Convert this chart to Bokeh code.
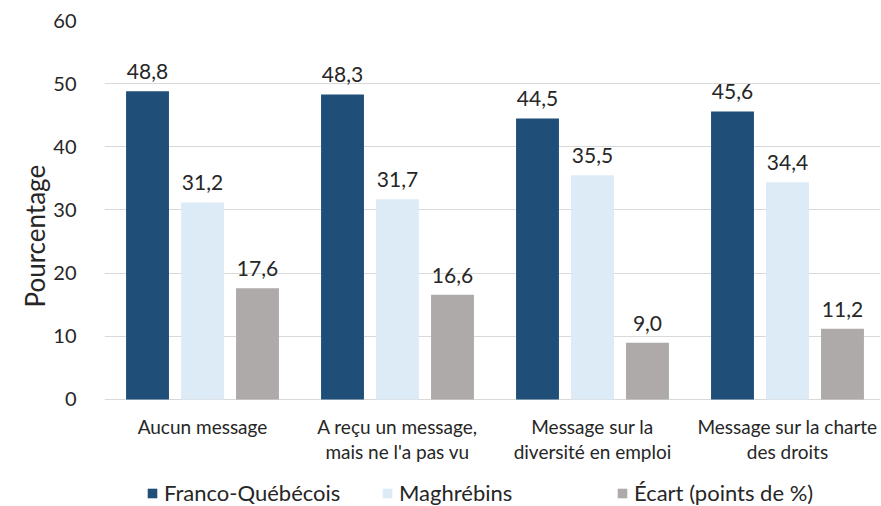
from bokeh.plotting import figure
from bokeh.models import (ColumnDataSource, Legend, LegendItem, FixedTicker, LabelSet,
                          Range1d, Title)
from bokeh.core.properties import value
from bokeh.transform import dodge
from bokeh.embed import file_html
from bokeh.resources import INLINE

categories = ["Aucun message",
              "A reçu un message,\nmais ne l'a pas vu",
              "Message sur la\ndiversité en emploi",
              "Message sur la charte\ndes droits"]
franco = [48.8, 48.3, 44.5, 45.6]
maghrebins = [31.2, 31.7, 35.5, 34.4]
ecart = [17.6, 16.6, 9.0, 11.2]
series_names = ["Franco-Québécois", "Maghrébins", "Écart (points de %)"]
colors = ["#1F4E79", "#DDEBF7", "#AEAAAA"]
y_ticks = [0, 10, 20, 30, 40, 50, 60]

FONT = "Lato"
TXT = "#262626"
xs = list(range(len(categories)))

def fmt(v):
    return f"{v:.1f}".replace(".", ",")

lines1 = [c.split("\n")[0] for c in categories]
lines2 = [c.split("\n")[1] if "\n" in c else "" for c in categories]

src = ColumnDataSource(dict(
    x=xs, l1=lines1, l2=lines2,
    franco=franco, maghrebins=maghrebins, ecart=ecart,
    franco_l=[fmt(v) for v in franco],
    maghrebins_l=[fmt(v) for v in maghrebins],
    ecart_l=[fmt(v) for v in ecart],
))

# frame spans the whole lower area; value axis 0..60 occupies the top part
p = figure(width=880, height=506, output_backend="svg", toolbar_location=None,
           x_range=Range1d(-0.5026, 3.477), y_range=Range1d(-16.94, 60),
           min_border_left=104, min_border_top=20, min_border_right=0,
           min_border_bottom=0)
p.outline_line_color = None
p.background_fill_color = "white"
p.border_fill_color = "white"

offsets = [-0.282, 0.0, 0.282]
keys = ["franco", "maghrebins", "ecart"]
renderers = []
for k, off, c in zip(keys, offsets, colors):
    r = p.vbar(x=dodge("x", off), top=k, width=0.22, bottom=0, source=src,
               fill_color=c, line_color=None)
    renderers.append(r)
    p.add_layout(LabelSet(x=dodge("x", off), y=k, text=k + "_l", source=src,
                          text_align="center", text_baseline="bottom", y_offset=12,
                          text_font=value(FONT), text_font_size=value("21px"),
                          text_color=value(TXT)))

# category labels under the baseline (two lines, each centred)
for txt, off in (("l1", -27), ("l2", -52)):
    p.add_layout(LabelSet(x="x", y=0, text=txt, source=src,
                          text_align="center", text_baseline="middle", y_offset=off,
                          text_font=value(FONT), text_font_size=value("19px"),
                          text_color=value(TXT)))

p.xaxis.visible = False

p.yaxis.ticker = FixedTicker(ticks=y_ticks)
p.yaxis.major_label_text_font = FONT
p.yaxis.major_label_text_font_size = "20px"
p.yaxis.major_label_text_color = TXT
p.yaxis.major_label_standoff = 22
p.yaxis.major_tick_line_color = None
p.yaxis.minor_tick_line_color = None
p.yaxis.axis_line_color = None

p.add_layout(Title(text="Pourcentage", align="left", offset=199,
                   text_font=FONT, text_font_size="26px", text_font_style="normal",
                   text_color=TXT, standoff=0), "left")

p.xgrid.grid_line_color = None
p.ygrid.ticker = FixedTicker(ticks=y_ticks)
p.ygrid.grid_line_color = "#D9D9D9"

legend = Legend(items=[LegendItem(label=n, renderers=[r]) for n, r in zip(series_names, renderers)],
                orientation="horizontal", location=(42, 0),
                glyph_width=12, glyph_height=12, label_standoff=6, spacing=17,
                label_width=200,
                label_text_font=FONT, label_text_font_size="22px",
                label_text_color=TXT, border_line_color=None,
                background_fill_alpha=0, padding=2, margin=0)
p.add_layout(legend)

open("out.html", "w").write(file_html(p, INLINE))
